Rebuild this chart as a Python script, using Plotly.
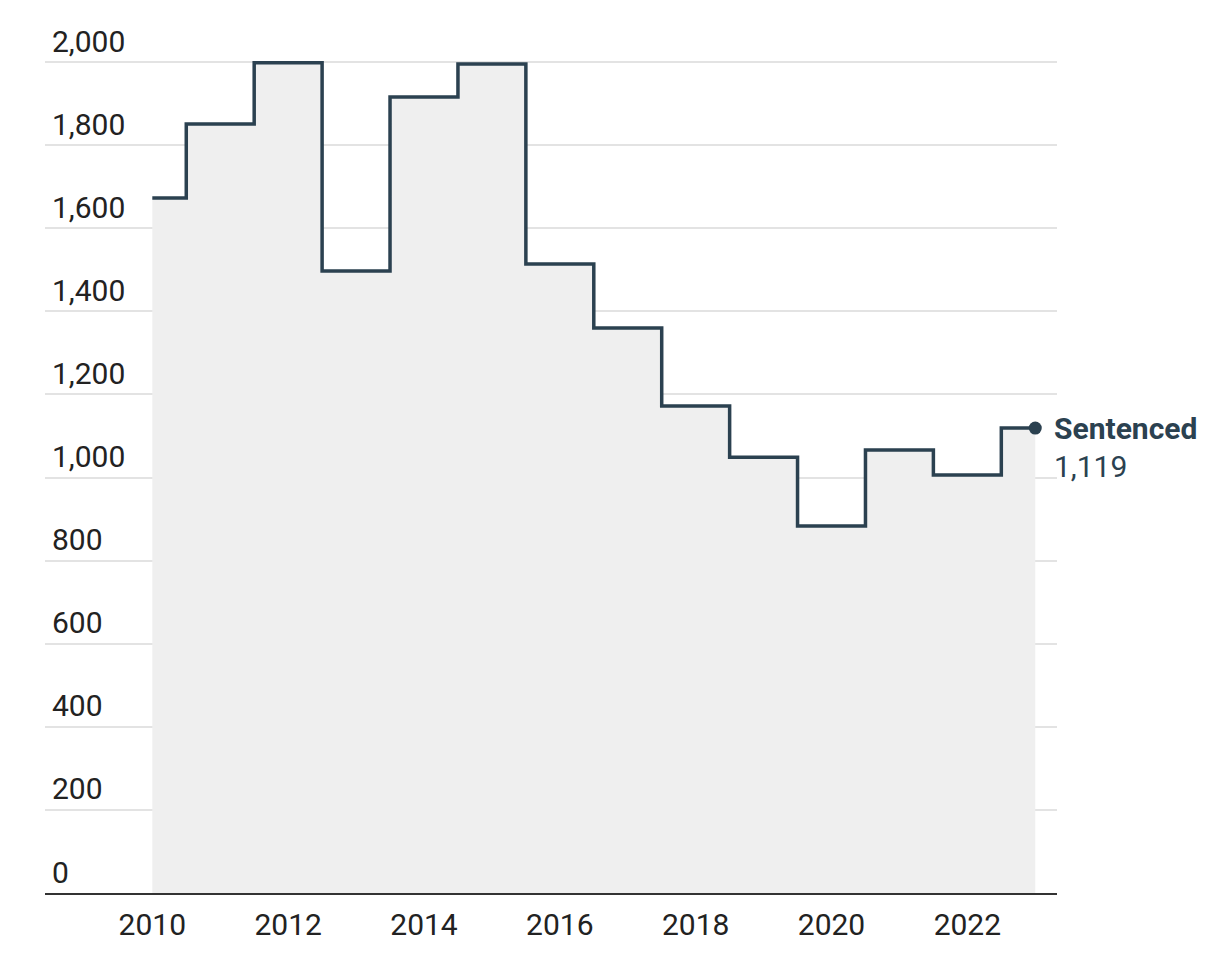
import plotly.graph_objects as go

years = [2010, 2011, 2012, 2013, 2014, 2015, 2016, 2017, 2018, 2019, 2020, 2021, 2022, 2023]
sentenced = [1673, 1851, 1998, 1497, 1916, 1995, 1514, 1360, 1172, 1049, 883, 1066, 1006, 1119]
series_name = "Sentenced"
y_ticks = [0, 200, 400, 600, 800, 1000, 1200, 1400, 1600, 1800, 2000]
x_ticks = [2010, 2012, 2014, 2016, 2018, 2020, 2022]

LINE = "#2b4150"
FONT = "Roboto, sans-serif"

fig = go.Figure()
fig.add_trace(go.Scatter(
    x=years, y=sentenced, mode="lines", line=dict(shape="hvh", color=LINE, width=3.5),
    fill="tozeroy", fillcolor="#efefef", hoverinfo="skip", showlegend=False,
))
fig.add_trace(go.Scatter(
    x=[years[-1]], y=[sentenced[-1]], mode="markers",
    marker=dict(color=LINE, size=13), showlegend=False,
))
fig.add_annotation(x=years[-1], y=sentenced[-1], xref="x", yref="y",
                   text=f"<b>{series_name}</b>", showarrow=False, xanchor="left",
                   yanchor="middle", xshift=17,
                   font=dict(family=FONT, size=30, color=LINE))
fig.add_annotation(x=years[-1], y=sentenced[-1], xref="x", yref="y",
                   text=f"{sentenced[-1]:,}", showarrow=False, xanchor="left",
                   yanchor="middle", xshift=17, yshift=-38,
                   font=dict(family=FONT, size=30, color=LINE))

fig.update_layout(
    width=1214, height=954,
    margin=dict(l=37, r=165, t=0, b=69),
    paper_bgcolor="white", plot_bgcolor="white",
    font=dict(family=FONT, size=30, color="#222222"),
    xaxis=dict(range=[2008.42, 2023.32], tickvals=x_ticks, showgrid=False,
               showline=True, linecolor="#333333", linewidth=2, ticks="",
               ticklabelstandoff=4, zeroline=False, fixedrange=True),
    yaxis=dict(range=[0, 2130], tickvals=y_ticks, tickformat=",", showgrid=True,
               gridcolor="#e3e3e3", gridwidth=2, ticklabelposition="inside top",
               ticklabelstandoff=4, tickfont=dict(color="#222222"),
               zeroline=False, showline=False, ticks="", fixedrange=True),
)
fig.write_html("out.html")
